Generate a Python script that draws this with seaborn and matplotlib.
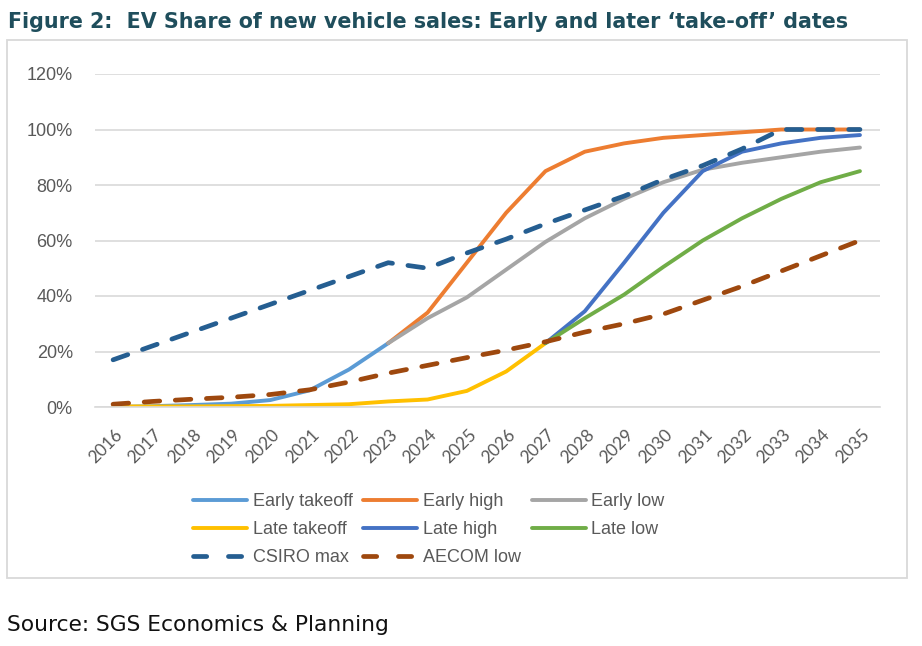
import numpy as np
import pandas as pd
import matplotlib
matplotlib.use("Agg")
import matplotlib.pyplot as plt
import seaborn as sns
from matplotlib.patches import Rectangle
from matplotlib.lines import Line2D
from matplotlib.transforms import ScaledTranslation

# ---------------- data ----------------
years = list(range(2016, 2036))
nan = np.nan
early_takeoff = [0, 0.3, 0.7, 1.2, 2.5, 6, 13.5, 23] + [nan] * 12
early_high = [nan] * 7 + [23, 34, 52, 70, 85, 92, 95, 97, 98, 99, 100, 100, 100]
early_low = [nan] * 7 + [23, 32, 39.5, 49.5, 59.5, 68, 75, 81, 85.5, 88, 90, 92, 93.5]
late_takeoff = [0.2, 0.2, 0.2, 0.3, 0.4, 0.7, 1, 2, 2.7, 5.8, 12.8, 23] + [nan] * 8
late_high = [nan] * 11 + [23, 34.5, 52, 70, 85, 92, 95, 97, 98]
late_low = [nan] * 11 + [23, 32, 40.5, 50.5, 60, 68, 75, 81, 85]
csiro_max = [17, 22, 27, 32, 37, 42, 47, 52, 50, 55.5, 60.5, 66, 71, 76, 82, 87, 93, 100, 100, 100]
aecom_low = [1, 2, 2.8, 3.5, 4.5, 6.2, 9, 12.2, 15, 17.8, 20.5, 23.5, 27, 30, 33.5, 38.5, 43.5, 49, 54.5, 60]

series_names = ["Early takeoff", "Early high", "Early low", "Late takeoff",
                "Late high", "Late low", "CSIRO max", "AECOM low"]
series_values = [early_takeoff, early_high, early_low, late_takeoff,
                 late_high, late_low, csiro_max, aecom_low]
series_colors = ["#5B9BD5", "#ED7D31", "#A5A5A5", "#FFC000",
                 "#4472C4", "#70AD47", "#255E91", "#9E480E"]
series_dashed = [False, False, False, False, False, False, True, True]
y_ticks = [0, 20, 40, 60, 80, 100, 120]

title_text = "Figure 2:  EV Share of new vehicle sales: Early and later \u2018take-off\u2019 dates"
source_text = "Source: SGS Economics & Planning"

# ---------------- style ----------------
sns.set_style("white")
plt.rcParams["font.family"] = ["Liberation Sans", "DejaVu Sans"]

W, H = 922, 646
fig = plt.figure(figsize=(W / 100, H / 100), dpi=100)
fig.patch.set_facecolor("white")

def px_x(x):
    return x / W

def px_y(y):
    return 1 - y / H

ax_left, ax_right, ax_top, ax_bot = 95, 880, 74, 407
ax = fig.add_axes([px_x(ax_left), px_y(ax_bot), (ax_right - ax_left) / W, (ax_bot - ax_top) / H])

# chart border box
fig.patches.append(Rectangle((px_x(7), px_y(578)), 900 / W, (578 - 40) / H,
                             transform=fig.transFigure, fill=False,
                             edgecolor="#D9D9D9", linewidth=1.3, zorder=0))

for name, vals, col, dashed in zip(series_names, series_values, series_colors, series_dashed):
    df = pd.DataFrame({"year": years, "share": vals}).dropna()
    n_before = len(ax.lines)
    sns.lineplot(data=df, x="year", y="share", ax=ax, color=col,
                 linewidth=3.4 if dashed else 2.8, estimator=None,
                 solid_capstyle="round", dash_capstyle="round")
    line = ax.lines[n_before]
    if dashed:
        line.set_dashes((3.3, 3.3))

ax.set_xlim(2015.54, 2035.51)
ax.set_ylim(0, 120)
ax.set_yticks(y_ticks)
ax.set_yticklabels([f"{v}%" for v in y_ticks])
ax.set_xticks(years)
ax.set_xticklabels([str(y) for y in years])
ax.set_xlabel("")
ax.set_ylabel("")
ax.grid(axis="y", color="#D9D9D9", linewidth=1.2)
ax.grid(axis="x", visible=False)
ax.set_axisbelow(True)
for s in ["top", "right", "left"]:
    ax.spines[s].set_visible(False)
ax.spines["bottom"].set_color("#D9D9D9")
ax.spines["bottom"].set_linewidth(1.2)

ax.tick_params(axis="y", length=0, pad=16, labelsize=13, labelcolor="#595959")
ax.tick_params(axis="x", length=0, pad=18, labelsize=12.5, labelcolor="#595959")
for lbl in ax.get_yticklabels():
    lbl.set_fontfamily(["Liberation Sans", "DejaVu Sans"])
for lbl in ax.get_xticklabels():
    lbl.set_fontfamily(["Lato", "DejaVu Sans"])
    lbl.set_rotation(45)
    lbl.set_ha("right")
    lbl.set_va("center")
    lbl.set_rotation_mode("anchor")
    lbl.set_transform(lbl.get_transform() + ScaledTranslation(7 / 100, 0, fig.dpi_scale_trans))

# legend (column-major ordering)
order = ["Early takeoff", "Late takeoff", "CSIRO max",
         "Early high", "Late high", "AECOM low",
         "Early low", "Late low"]
leg_handles = []
for nm in order:
    i = series_names.index(nm)
    h = Line2D([0], [0], color=series_colors[i],
               linewidth=3.4 if series_dashed[i] else 2.8,
               solid_capstyle="round", dash_capstyle="round")
    if series_dashed[i]:
        h.set_dashes((2.8, 4.6))
    leg_handles.append(h)
leg = fig.legend(leg_handles, order, ncol=3, loc="upper left",
                 bbox_to_anchor=(px_x(193), px_y(493)),
                 frameon=False, fontsize=13, handlelength=3.0,
                 handletextpad=0.3, columnspacing=0.6, labelspacing=0.62,
                 borderaxespad=0, borderpad=0)
for t in leg.get_texts():
    t.set_color("#595959")

# title and source (fit title width to reference)
title = fig.text(px_x(8), px_y(28), title_text, fontsize=16, fontweight="bold",
                 color="#1F4E5C", family=["DejaVu Sans"], va="baseline", ha="left")
src = fig.text(px_x(7), px_y(631), source_text, fontsize=15.6, color="#111111",
               family=["DejaVu Sans"], va="baseline", ha="left")
fig.canvas.draw()
r = fig.canvas.get_renderer()
tw = title.get_window_extent(r).width
title.set_fontsize(16 * 842 / tw)
sw = src.get_window_extent(r).width
src.set_fontsize(15.6 * 381 / sw)

fig.savefig("out.png", dpi=100, facecolor="white")
